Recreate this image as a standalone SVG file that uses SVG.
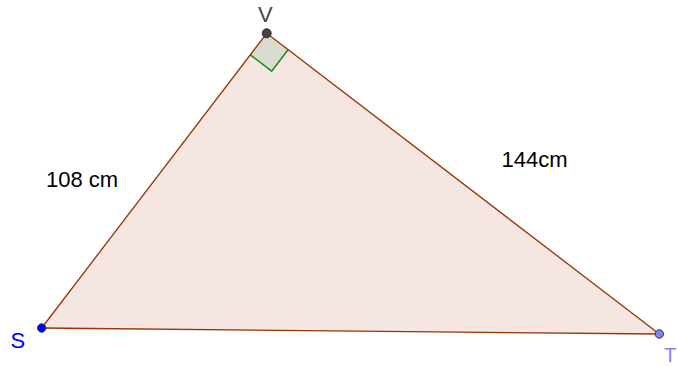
<svg xmlns="http://www.w3.org/2000/svg" width="677" height="367" viewBox="0 0 677 367">
<style>
.edge{stroke:#993300;stroke-width:1.3;fill:none;stroke-linecap:round}
.lbl{font-family:"Liberation Sans",Arial,sans-serif}
.pt{stroke:#333;stroke-width:1}
</style>
<rect width="677" height="367" fill="#ffffff"/>
<g id="triangle">
<polygon points="266.7,33.3 41.7,328 659.3,334" fill="#f5e6e1" stroke="none"/>
</g>
<g id="right-angle">
<polygon points="266.7,33.3 250.3,54.8 271.7,71.2 288.1,49.7" fill="#d9dbcf" stroke="none"/>
<polyline points="250.3,54.8 271.7,71.2 288.1,49.7" fill="none" stroke="#1a8a1a" stroke-width="1.5"/>
</g>
<g id="connectors">
<line class="edge" x1="266.7" y1="33.3" x2="41.7" y2="328"/>
<line class="edge" x1="266.7" y1="33.3" x2="659.3" y2="334"/>
<line class="edge" x1="41.7" y1="328" x2="659.3" y2="334"/>
</g>
<g id="V">
<circle class="pt" cx="266.7" cy="33.3" r="4.5" fill="#444444"/>
<text class="lbl" x="258" y="22" font-size="22" fill="#444444">V</text>
</g>
<g id="S">
<circle class="pt" cx="41.7" cy="328" r="4.2" fill="#0000ff"/>
<text class="lbl" x="10.5" y="348" font-size="22" fill="#0000ff">S</text>
</g>
<g id="T">
<circle class="pt" cx="659.3" cy="334" r="4.2" fill="#7f7fff"/>
<text class="lbl" x="664" y="362" font-size="20" fill="#7f7fff">T</text>
</g>
<g id="labels">
<text class="lbl" x="46" y="187.3" font-size="22" fill="#000">108 cm</text>
<text class="lbl" x="501.5" y="167.3" font-size="22" fill="#000">144cm</text>
</g>
</svg>
